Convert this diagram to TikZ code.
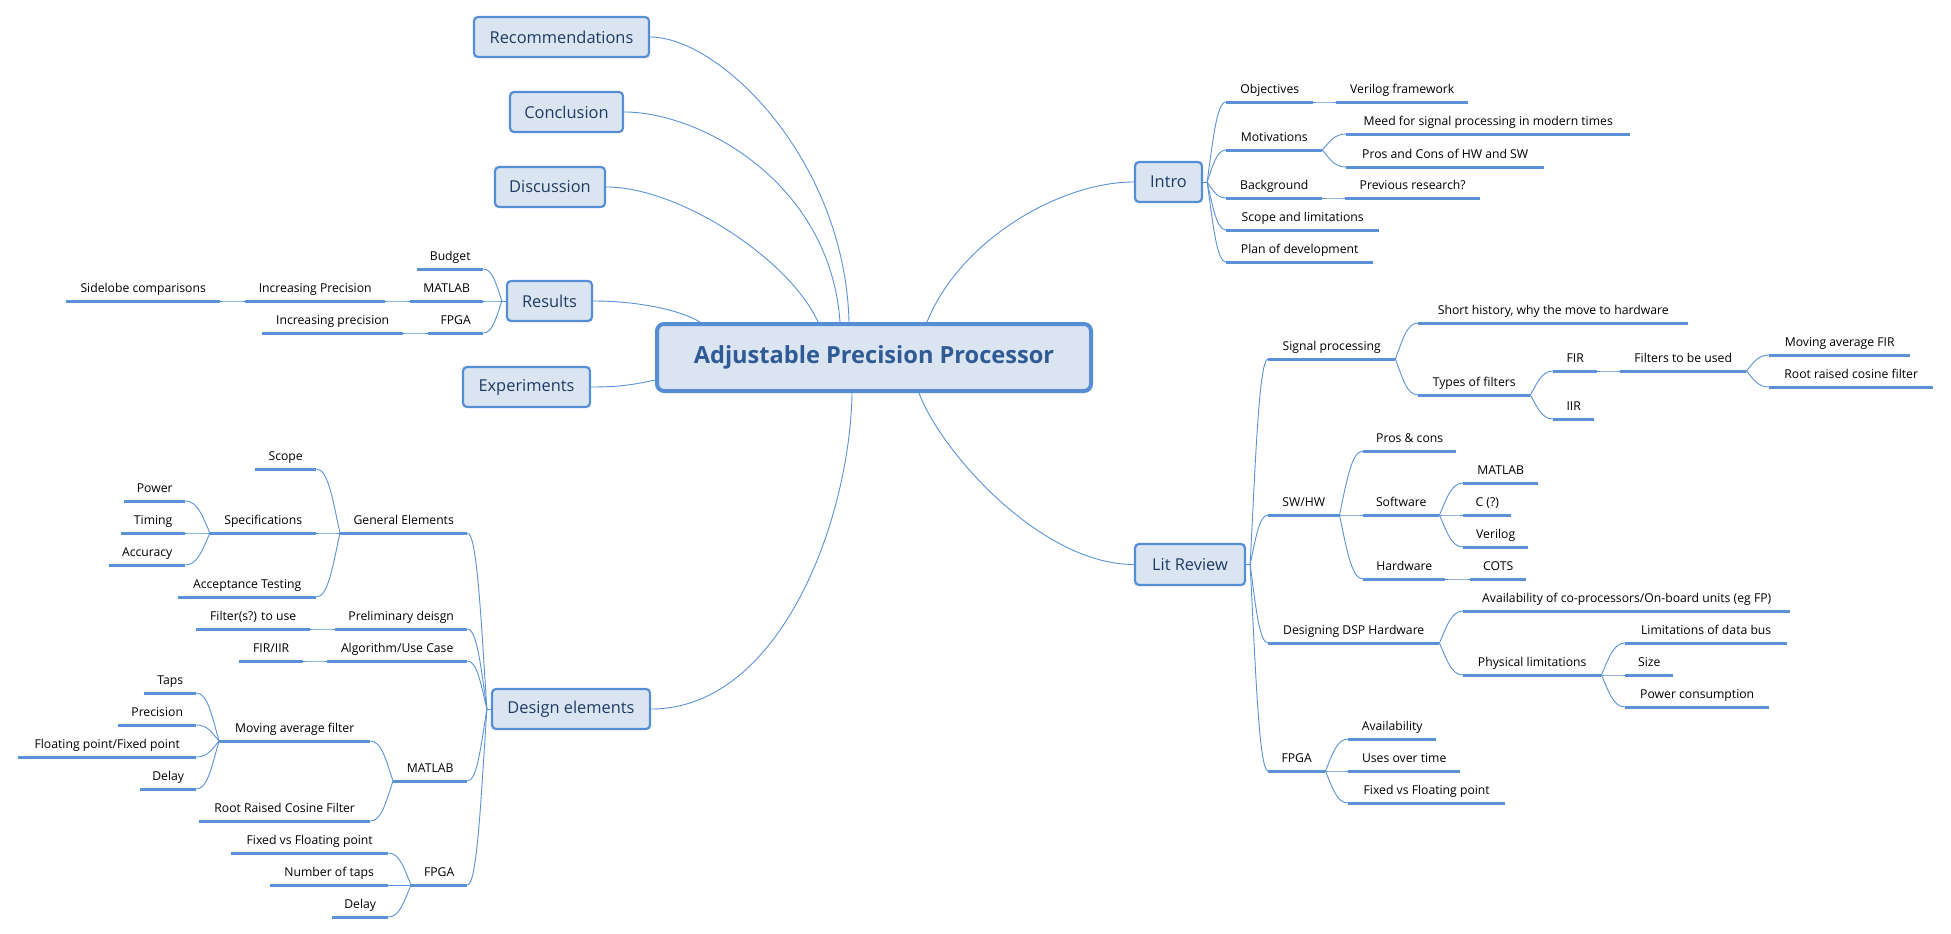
\documentclass[tikz,border=0pt]{standalone}
\usepackage{fontspec}
\setmainfont{Open Sans}
\usetikzlibrary{calc}
\definecolor{boxc}{RGB}{219,229,241}
\definecolor{bordc}{RGB}{85,142,213}
\definecolor{linec}{RGB}{90,145,215}
\definecolor{topc}{RGB}{31,59,99}
\definecolor{rootc}{RGB}{47,90,148}
\tikzset{topic/.style={draw=bordc, fill=boxc, line width=2.2pt, rounded corners=4pt, minimum height=40pt, inner sep=0pt, text=topc, font=\fontsize{16.4}{19}\selectfont},
root/.style={draw=bordc, fill=boxc, line width=4pt, rounded corners=7pt, minimum width=434pt, minimum height=67pt, inner sep=0pt, text=rootc, font=\bfseries\fontsize{23.6}{27}\selectfont},
sub/.style={anchor=south west, inner xsep=0pt, inner ysep=8pt, text depth=0pt, font=\fontsize{12.2}{14}\selectfont},
conn/.style={draw=linec, line width=0.9pt},
uline/.style={draw=linec, line width=3pt},
%bracket-like branch, vertical near the parent and flat at the child
bracket/.style={to path={let \p1=(\tikztostart), \p2=(\tikztotarget) in .. controls ({\x1+0.3*(\x2-\x1)},{0.5*(\y1+\y2)}) and ({0.5*(\x1+\x2)},\y2) .. (\tikztotarget)}}}

\begin{document}
\begin{tikzpicture}[x=1pt,y=-1pt]
    \useasboundingbox (0,0) rectangle (1951,934);

    \node[root] (app) at (874,357.5) {Adjustable Precision Processor};

    \node[topic, minimum width=175] (rec) at (561.5,37) {Recommendations};
    \node[topic, minimum width=113] (conc) at (566.5,112) {Conclusion};
    \node[topic, minimum width=110] (disc) at (550,187) {Discussion};
    \node[topic, minimum width=85] (res) at (549.5,301) {Results};
    \node[topic, minimum width=127] (exp) at (526.5,387) {Experiments};
    \node[topic, minimum width=158] (des) at (571,709) {Design elements};
    \node[topic, minimum width=67] (intro) at (1168.5,182) {Intro};
    \node[topic, minimum width=110, minimum height=41] (lit) at (1190,564.5) {Lit Review};

    \coordinate (resJ) at ([xshift=-4pt]res.west);
    \coordinate (desJ) at ([xshift=-4pt]des.west);
    \coordinate (introJ) at ([xshift=4pt]intro.east);
    \coordinate (litJ) at ([xshift=4pt]lit.east);

    % intro
    \node[sub, minimum width=87] (obj) at (1226,102) {Objectives};
    \node[sub, minimum width=132] (verilogfw) at (1336,102) {Verilog framework};
    \node[sub, minimum width=96] (mot) at (1226,150) {Motivations};
    \node[sub, minimum width=284] (meed) at (1346,134) {Meed for signal processing in modern times};
    \node[sub, minimum width=198] (proscons) at (1346,167) {Pros and Cons of HW and SW};
    \node[sub, minimum width=96] (backg) at (1226,198) {Background};
    \node[sub, minimum width=135] (prevres) at (1345,198) {Previous research?};
    \node[sub, minimum width=153] (scopelim) at (1226,230) {Scope and limitations};
    \node[sub, minimum width=147] (plan) at (1226,262) {Plan of development};

    % lit review
    \node[sub, minimum width=127] (sigproc) at (1268,359) {Signal processing};
    \node[sub, minimum width=270] (history) at (1418,323) {Short history, why the move to hardware};
    \node[sub, minimum width=112] (types) at (1418,395) {Types of filters};
    \node[sub, minimum width=44] (fir) at (1553,371) {FIR};
    \node[sub, minimum width=126] (tobeused) at (1620,371) {Filters to be used};
    \node[sub, minimum width=141] (mafir) at (1769,355) {Moving average FIR};
    \node[sub, minimum width=164] (rrcf) at (1769,387) {Root raised cosine filter};
    \node[sub, minimum width=41] (iir) at (1553,419) {IIR};
    \node[sub, minimum width=71] (swhw) at (1268,515) {SW/HW};
    \node[sub, minimum width=93] (proscons2) at (1363,451) {Pros \& cons};
    \node[sub, minimum width=76] (software) at (1363,515) {Software};
    \node[sub, minimum width=75] (matlab) at (1463,483) {MATLAB};
    \node[sub, minimum width=48] (clang) at (1463,515) {C (?)};
    \node[sub, minimum width=65] (verilog) at (1463,547) {Verilog};
    \node[sub, minimum width=82] (hardware) at (1363,579) {Hardware};
    \node[sub, minimum width=56] (cots) at (1470,579) {COTS};
    \node[sub, minimum width=171] (dsp) at (1268,643) {Designing DSP Hardware};
    \node[sub, minimum width=327] (avail) at (1463,611) {Availability of co-processors/On-board units (eg FP)};
    \node[sub, minimum width=138] (phys) at (1463,675) {Physical limitations};
    \node[sub, minimum width=162] (databus) at (1625,643) {Limitations of data bus};
    \node[sub, minimum width=48] (size) at (1625,675) {Size};
    \node[sub, minimum width=144] (power) at (1625,707) {Power consumption};
    \node[sub, minimum width=57] (fpga) at (1268,771) {FPGA};
    \node[sub, minimum width=88] (availf) at (1348,739) {Availability};
    \node[sub, minimum width=112] (uses) at (1348,771) {Uses over time};
    \node[sub, minimum width=157] (fixfloat) at (1348,803) {Fixed vs Floating point};

    % results
    \node[sub, minimum width=66] (budget) at (417,269) {Budget};
    \node[sub, minimum width=73] (resmatlab) at (410,301) {MATLAB};
    \node[sub, minimum width=140] (incprec) at (245,301) {Increasing Precision};
    \node[sub, minimum width=154] (sidelobe) at (66,301) {Sidelobe comparisons};
    \node[sub, minimum width=55] (resfpga) at (428,333) {FPGA};
    \node[sub, minimum width=141] (incprec2) at (262,333) {Increasing precision};

    % design elements
    \node[sub, minimum width=127] (general) at (340,533) {General Elements};
    \node[sub, minimum width=61] (scope) at (255,469) {Scope};
    \node[sub, minimum width=106] (specs) at (210,533) {Specifications};
    \node[sub, minimum width=61] (dpower) at (124,501) {Power};
    \node[sub, minimum width=64] (timing) at (121,533) {Timing};
    \node[sub, minimum width=76] (accuracy) at (109,565) {Accuracy};
    \node[sub, minimum width=138] (accept) at (178,597) {Acceptance Testing};
    \node[sub, minimum width=132] (prelim) at (335,629) {Preliminary deisgn};
    \node[sub, minimum width=114] (filters) at (196,629) {Filter(s?) to use};
    \node[sub, minimum width=140] (algo) at (327,661) {Algorithm/Use Case};
    \node[sub, minimum width=64] (firiir) at (239,661) {FIR/IIR};
    \node[sub, minimum width=74] (dmatlab) at (393,781) {MATLAB};
    \node[sub, minimum width=151] (mavg) at (219,741) {Moving average filter};
    \node[sub, minimum width=52] (taps) at (144,693) {Taps};
    \node[sub, minimum width=78] (precision) at (118,725) {Precision};
    \node[sub, minimum width=178] (floatfix) at (18,757) {Floating point/Fixed point};
    \node[sub, minimum width=56] (delay) at (140,789) {Delay};
    \node[sub, minimum width=171] (rrc) at (199,821) {Root Raised Cosine Filter};
    \node[sub, minimum width=56] (dfpga) at (411,885) {FPGA};
    \node[sub, minimum width=157] (fixvs) at (231,853) {Fixed vs Floating point};
    \node[sub, minimum width=118] (ntaps) at (270,885) {Number of taps};
    \node[sub, minimum width=56] (delay2) at (332,917) {Delay};

    % main branches
    \draw[conn] (rec.east) .. controls +(70,0) and +(-4,-162) .. ([xshift=194pt]app.north west);
    \draw[conn] (conc.east) .. controls +(76,0) and +(-10,-140) .. ([xshift=185pt]app.north west);
    \draw[conn] (disc.east) .. controls +(74,0) and +(-28,-62) .. ([xshift=163pt]app.north west);
    \draw[conn] (res.east) .. controls +(45,0) and +(-20,-12) .. ([xshift=45pt]app.north west);
    \draw[conn] (exp.east) .. controls +(35,0) and +(-15,3) .. ([yshift=-22.5pt]app.west);
    \draw[conn] (des.east) .. controls +(129,0) and +(-2,127) .. ([xshift=197pt]app.south west);
    \draw[conn] (intro.west) .. controls +(-74,0) and +(33,-82) .. ([xshift=272pt]app.north west);
    \draw[conn] (lit.west) .. controls +(-94,0) and +(21,57) .. ([xshift=264pt]app.south west);

    \draw[conn] (res.west) -- (resJ);
    \draw[conn] (des.west) -- (desJ);
    \draw[conn] (intro.east) -- (introJ);
    \draw[conn] (lit.east) -- (litJ);

    \foreach \a/\b in {introJ/obj, introJ/mot, introJ/backg, introJ/scopelim, introJ/plan,
      obj.south east/verilogfw, mot.south east/meed, mot.south east/proscons, backg.south east/prevres,
      litJ/sigproc, litJ/swhw, litJ/dsp, litJ/fpga,
      sigproc.south east/history, sigproc.south east/types, types.south east/fir, types.south east/iir,
      fir.south east/tobeused, tobeused.south east/mafir, tobeused.south east/rrcf,
      swhw.south east/proscons2, swhw.south east/software, swhw.south east/hardware,
      software.south east/matlab, software.south east/clang, software.south east/verilog, hardware.south east/cots,
      dsp.south east/avail, dsp.south east/phys, phys.south east/databus, phys.south east/size, phys.south east/power,
      fpga.south east/availf, fpga.south east/uses, fpga.south east/fixfloat}
    \draw[conn] (\a) to[bracket] (\b.south west);

    \foreach \a/\b in {resJ/budget, resJ/resmatlab, resJ/resfpga, resmatlab.south west/incprec,
      incprec.south west/sidelobe, resfpga.south west/incprec2,
      desJ/general, desJ/prelim, desJ/algo, desJ/dmatlab, desJ/dfpga,
      general.south west/scope, general.south west/specs, general.south west/accept,
      specs.south west/dpower, specs.south west/timing, specs.south west/accuracy,
      prelim.south west/filters, algo.south west/firiir, dmatlab.south west/mavg, dmatlab.south west/rrc,
      mavg.south west/taps, mavg.south west/precision, mavg.south west/floatfix, mavg.south west/delay,
      dfpga.south west/fixvs, dfpga.south west/ntaps, dfpga.south west/delay2}
    \draw[conn] (\a) to[bracket] (\b.south east);

    \foreach \n in {obj, verilogfw, mot, meed, proscons, backg, prevres, scopelim, plan,
      sigproc, history, types, fir, tobeused, mafir, rrcf, iir, swhw, proscons2, software,
      matlab, clang, verilog, hardware, cots, dsp, avail, phys, databus, size, power,
      fpga, availf, uses, fixfloat, budget, resmatlab, incprec, sidelobe, resfpga, incprec2,
      general, scope, specs, dpower, timing, accuracy, accept, prelim, filters, algo, firiir,
      dmatlab, mavg, taps, precision, floatfix, delay, rrc, dfpga, fixvs, ntaps, delay2}
    \draw[uline] (\n.south west) -- (\n.south east);

  \end{tikzpicture}
\end{document}
